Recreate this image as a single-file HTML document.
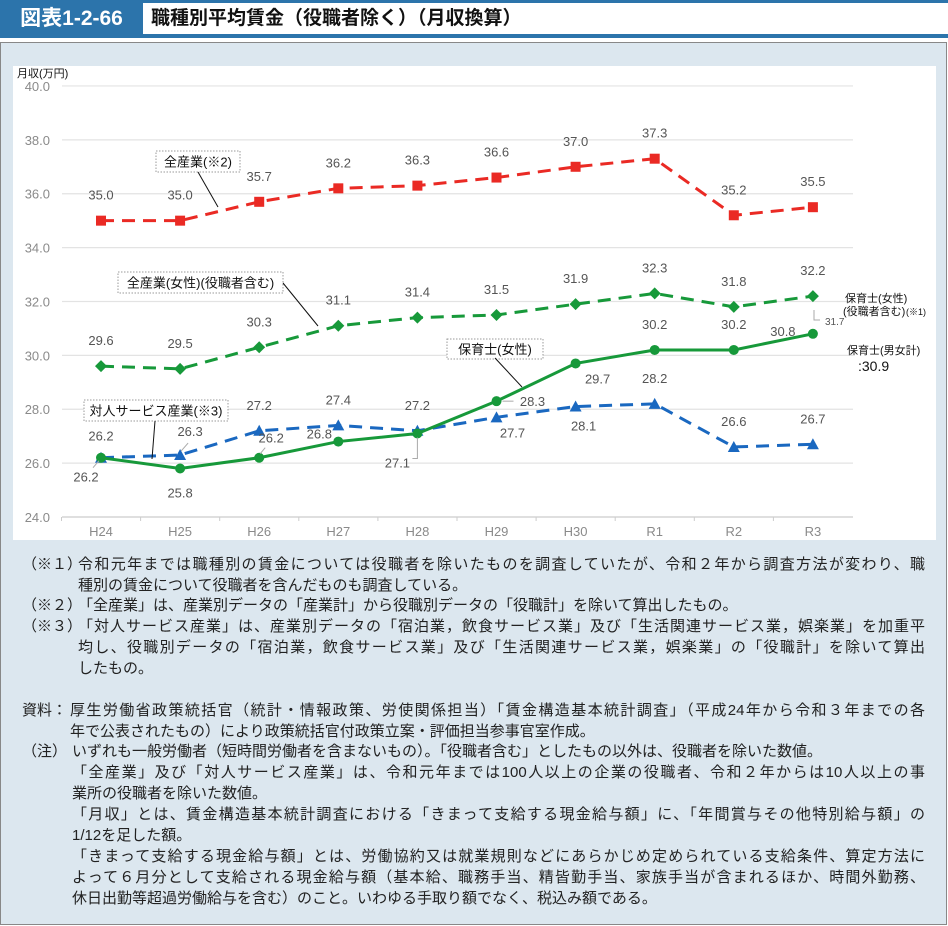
<!DOCTYPE html>
<html><head><meta charset="utf-8">
<style>
body{margin:0;width:948px;height:926px;position:relative;background:#fff;font-family:"Liberation Sans","Noto Sans CJK JP",sans-serif;overflow:hidden}
.hdr{position:absolute;left:0;top:0;width:948px;height:38px;background:#2c74ab}
.hdr-no{position:absolute;left:0;top:0;width:143px;height:38px;color:#fff;font-weight:bold;font-size:21px;line-height:38px;text-align:center}
.hdr-title{position:absolute;left:143px;top:3px;width:805px;height:31px;background:#fff;font-weight:bold;font-size:19px;line-height:31px;padding-left:8px;box-sizing:border-box;color:#111}
.panel{position:absolute;left:0;top:42px;width:945px;height:881px;background:#dce7ef;border:1px solid #888}
.chartbox{position:absolute;left:12px;top:23px;width:923px;height:474px;background:#fff}
.ln{position:absolute;font-size:15px;height:20px;line-height:20px;color:#222;white-space:nowrap}
.j{text-align:justify;text-align-last:justify}
</style></head><body>
<div class="hdr">
<div class="hdr-no">図表1-2-66</div>
<div class="hdr-title">職種別平均賃金（役職者除く）（月収換算）</div>
</div>
<div class="panel">
<div class="chartbox"></div>
</div>
<svg id="chart" style="position:absolute;left:0;top:0" width="948" height="545" font-family="Liberation Sans, Noto Sans CJK JP, sans-serif"></svg>

<div class="ln" style="left:22px;top:555px">（※１）</div>
<div class="ln j" style="left:78px;top:555px;width:847px">令和元年までは職種別の賃金については役職者を除いたものを調査していたが、令和２年から調査方法が変わり、職</div>
<div class="ln" style="left:78px;top:576px">種別の賃金について役職者を含んだものも調査している。</div>
<div class="ln" style="left:22px;top:596px">（※２）</div>
<div class="ln" style="left:78px;top:596px">「全産業」は、産業別データの「産業計」から役職別データの「役職計」を除いて算出したもの。</div>
<div class="ln" style="left:22px;top:617px">（※３）</div>
<div class="ln j" style="left:78px;top:617px;width:847px">「対人サービス産業」は、産業別データの「宿泊業，飲食サービス業」及び「生活関連サービス業，娯楽業」を加重平</div>
<div class="ln j" style="left:78px;top:638px;width:847px">均し、役職別データの「宿泊業，飲食サービス業」及び「生活関連サービス業，娯楽業」の「役職計」を除いて算出</div>
<div class="ln" style="left:78px;top:659px">したもの。</div>
<div class="ln" style="left:22px;top:701px">資料：</div>
<div class="ln j" style="left:70px;top:701px;width:855px">厚生労働省政策統括官（統計・情報政策、労使関係担当）「賃金構造基本統計調査」（平成24年から令和３年までの各</div>
<div class="ln" style="left:70px;top:722px">年で公表されたもの）により政策統括官付政策立案・評価担当参事官室作成。</div>
<div class="ln" style="left:22px;top:742px">（注）</div>
<div class="ln" style="left:72px;top:742px">いずれも一般労働者（短時間労働者を含まないもの）。「役職者含む」としたもの以外は、役職者を除いた数値。</div>
<div class="ln j" style="left:72px;top:763px;width:853px">「全産業」及び「対人サービス産業」は、令和元年までは100人以上の企業の役職者、令和２年からは10人以上の事</div>
<div class="ln" style="left:72px;top:784px">業所の役職者を除いた数値。</div>
<div class="ln j" style="left:72px;top:805px;width:853px">「月収」とは、賃金構造基本統計調査における「きまって支給する現金給与額」に、「年間賞与その他特別給与額」の</div>
<div class="ln" style="left:72px;top:826px">1/12を足した額。</div>
<div class="ln j" style="left:72px;top:847px;width:853px">「きまって支給する現金給与額」とは、労働協約又は就業規則などにあらかじめ定められている支給条件、算定方法に</div>
<div class="ln j" style="left:72px;top:868px;width:853px">よって６月分として支給される現金給与額（基本給、職務手当、精皆勤手当、家族手当が含まれるほか、時間外勤務、</div>
<div class="ln" style="left:72px;top:889px">休日出勤等超過労働給与を含む）のこと。いわゆる手取り額でなく、税込み額である。</div>

<script>
const categories=["H24","H25","H26","H27","H28","H29","H30","R1","R2","R3"];
const yTicks=[24,26,28,30,32,34,36,38,40];
const allIndustry=[35.0,35.0,35.7,36.2,36.3,36.6,37.0,37.3,35.2,35.5];
const allFemaleInclMgr=[29.6,29.5,30.3,31.1,31.4,31.5,31.9,32.3,31.8,32.2];
const nurseryFemale=[26.2,25.8,26.2,26.8,27.1,28.3,29.7,30.2,30.2,30.8];
const personalService=[26.2,26.3,27.2,27.4,27.2,27.7,28.1,28.2,26.6,26.7];
const nurseryInclMgrR3=31.7;
const nurseryAllR3=30.9;

const svg=document.getElementById('chart');
const NS='http://www.w3.org/2000/svg';
const X0=101,XS=79.1,Y0=517,YS=26.94,YMIN=24;
const xs=i=>X0+i*XS;
const ys=v=>Y0-(v-YMIN)*YS;
function mk(tag,attrs,parent){const e=document.createElementNS(NS,tag);for(const k in attrs)e.setAttribute(k,attrs[k]);(parent||svg).appendChild(e);return e;}
function txt(x,y,s,size,fill,anchor,weight){const t=mk('text',{x:x,y:y,'font-size':size,fill:fill,'text-anchor':anchor||'middle','font-weight':weight||'normal'});t.textContent=s;return t;}

yTicks.forEach(v=>{
  const g=mk('line',{x1:62,x2:853,y1:ys(v),y2:ys(v),stroke:v===24?'#ccc':'#e3e3e3','stroke-width':1.2});
  
  
  const t=txt(50,ys(v)+5,v.toFixed(1),13,'#8a8a8a','end');
  
  
});
categories.forEach((c,i)=>{
  const tk=mk('line',{x1:xs(i)-39.5,x2:xs(i)-39.5,y1:Y0,y2:Y0+4,stroke:'#ccc'});
  
  
  const t=txt(xs(i),Y0+19,c,13,'#8a8a8a');
  
  
});
const yt=txt(17,77,'月収(万円)',11,'#111','start');



function series(data,color,dash,marker,name){
  const p=mk('polyline',{points:data.map((v,i)=>xs(i)+','+ys(v)).join(' '),fill:'none',stroke:color,'stroke-width':3,'stroke-dasharray':dash||'none'});
  
  
  data.forEach((v,i)=>{
    const x=xs(i),y=ys(v);let m;
    if(marker==='square')m=mk('rect',{x:x-5,y:y-5,width:10,height:10,fill:color});
    else if(marker==='diamond')m=mk('polygon',{points:`${x},${y-6} ${x+6},${y} ${x},${y+6} ${x-6},${y}`,fill:color});
    else if(marker==='circle')m=mk('circle',{cx:x,cy:y,r:5,fill:color});
    else m=mk('polygon',{points:`${x},${y-6} ${x+6},${y+5} ${x-6},${y+5}`,fill:color});
    
    
  });
}
series(personalService,'#1a68c0','13 8','triangle','personal-service');
series(nurseryFemale,'#17993a',null,'circle','nursery-female');
series(allFemaleInclMgr,'#17993a','13 8','diamond','all-industry-female');
series(allIndustry,'#ea2a24','13 8','square','all-industry');

function labels(data,offs,name){
  data.forEach((v,i)=>{
    const t=txt(xs(i)+offs[i][0],ys(v)+offs[i][1],v.toFixed(1),13,'#555');
    
    
  });
}
const up=[0,-21];
labels(allIndustry,Array(10).fill(up),'all-industry');
labels(allFemaleInclMgr,Array(10).fill(up),'all-industry-female');
labels(nurseryFemale,[[-15,24],[0,29],[12,-15],[-19,-3],[-20,34],[36,5],[22,20],[0,-21],[0,-21],[-30,2]],'nursery-female');
labels(personalService,[[0,-17],[10,-19],[0,-21],[0,-21],[0,-21],[16,20],[8,24],[0,-21],[0,-21],[0,-21]],'personal-service');

[[xs(1)+8,ys(personalService[1])-12,xs(1)+1,ys(personalService[1])-4],
 [xs(2)+6,ys(nurseryFemale[2])-10,xs(2)+1,ys(nurseryFemale[2])-4],
 [xs(5)+6,ys(nurseryFemale[5]),xs(5)+17,ys(nurseryFemale[5])],
 [xs(0)-8,ys(nurseryFemale[0])+10,xs(0)-2,ys(nurseryFemale[0])+3]].forEach(l=>{
  const e=mk('line',{x1:l[0],y1:l[1],x2:l[2],y2:l[3],stroke:'#aaa','stroke-width':1});
  
  
});
const br=mk('polyline',{points:`${xs(4)},${ys(nurseryFemale[4])+4} ${xs(4)},${ys(nurseryFemale[4])+25} ${xs(4)-5},${ys(nurseryFemale[4])+25}`,fill:'none',stroke:'#aaa'});



function callout(x,y,w,h,s,lx1,ly1,lx2,ly2,name){
  const r=mk('rect',{x:x,y:y,width:w,height:h,fill:'#fff',stroke:'#999','stroke-dasharray':'1.5 1.5'});
  
  
  const t=txt(x+w/2,y+h/2+5,s,13,'#111');
  
  
  const l=mk('line',{x1:lx1,y1:ly1,x2:lx2,y2:ly2,stroke:'#111','stroke-width':1});
  
  
}
callout(156,151,84,21,'全産業(※2)',198,172,218,207,'all-industry-callout');
callout(118,272,165,21,'全産業(女性)(役職者含む)',283,283,318,326,'all-industry-female-callout');
callout(447,339,96,20,'保育士(女性)',495,358,522,387,'nursery-female-callout');
callout(84,400,144,21,'対人サービス産業(※3)',155,421,152,459,'personal-service-callout');

let t;
t=txt(845,302,'保育士(女性)',11,'#111','start');


t=txt(843,315,'(役職者含む)',11,'#111','start');


t=txt(906,315,'(※1)',9,'#111','start');


t=txt(825,325,nurseryInclMgrR3.toFixed(1),10,'#555','start');


const b2=mk('polyline',{points:`814,310 814,320 820,320`,fill:'none',stroke:'#aaa'});


t=txt(847,354,'保育士(男女計)',11,'#111','start');


t=txt(858,371,':'+nurseryAllR3.toFixed(1),14,'#111','start');


</script>
</body></html>
